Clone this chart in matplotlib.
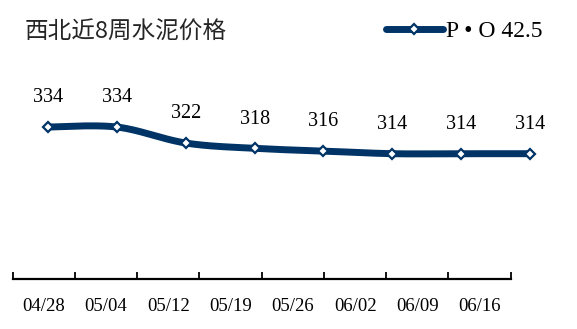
import numpy as np
import matplotlib.pyplot as plt
from matplotlib.lines import Line2D

plt.rcParams['font.family'] = ['Liberation Serif', 'DejaVu Sans']

weeks = ['04/28', '05/04', '05/12', '05/19', '05/26', '06/02', '06/09', '06/16']
price = [334, 334, 322, 318, 316, 314, 314, 314]
series_name = 'P • O 42.5'
title = '西北近8周水泥价格'

navy = '#003366'

fig = plt.figure(figsize=(5.77, 3.29), dpi=100)
ax = fig.add_axes([12.7/577, 50/329, 498/577, 173.3/329])

# category axis (ticks between categories, labels in the middle)
n = len(weeks)
ax.set_xlim(-0.5, n - 0.5)
ax.set_ylim(220, 350)
ax.set_xticks(np.arange(n + 1) - 0.5)
ax.set_xticklabels([])
ax.set_xticks(np.arange(n), minor=True)
ax.set_xticklabels(weeks, minor=True, fontsize=13.5)
ax.tick_params(axis='x', which='major', direction='in', length=5, width=1.3, color='black')
ax.tick_params(axis='x', which='minor', length=0, pad=14)
ax.set_yticks([])
for s in ['top', 'right', 'left']:
    ax.spines[s].set_visible(False)
ax.spines['bottom'].set_linewidth(1.6)

# line sits on its own (wider) x scale, like the original
ax2 = ax.twiny()
ax2.set_xlim(-0.5128, 6.719)
ax2.set_ylim(220, 350)
ax2.axis('off')

x = np.arange(n, dtype=float)
y = np.array(price, dtype=float)

# catmull-rom smoothing
px = np.concatenate([[x[0]], x, [x[-1]]])
py = np.concatenate([[y[0]], y, [y[-1]]])
sx, sy = [], []
t = np.linspace(0, 1, 30)
for i in range(1, len(px) - 2):
    for arr, out in ((px, sx), (py, sy)):
        p0, p1, p2, p3 = arr[i-1], arr[i], arr[i+1], arr[i+2]
        m1 = (p2 - p0) / 2
        m2 = (p3 - p1) / 2
        h00 = 2*t**3 - 3*t**2 + 1
        h10 = t**3 - 2*t**2 + t
        h01 = -2*t**3 + 3*t**2
        h11 = t**3 - t**2
        out.extend(h00*p1 + h10*m1 + h01*p2 + h11*m2)

ax2.plot(sx, sy, color=navy, lw=5, solid_capstyle='round', clip_on=False)
ax2.plot(x, y, ls='none', marker='D', ms=5.5, mfc='white', mec=navy, mew=1.6, clip_on=False)

for xi, yi in zip(x, y):
    ax2.annotate(str(int(yi)), (xi, yi), xytext=(0, 21), textcoords='offset points',
                 ha='center', va='center', fontsize=14.5, color='black',
                 annotation_clip=False)

fig.text(25/577, 1 - 32.5/329, title, family=['Noto Sans CJK SC', 'DejaVu Sans'],
         fontsize=17, color='#262626', va='center', ha='left')

handle = Line2D([], [], color=navy, lw=5, solid_capstyle='round', marker='D',
                ms=5.5, mfc='white', mec=navy, mew=1.6)
fig.legend([handle], [series_name], loc='center left',
           bbox_to_anchor=(386/577, 1 - 31/329), frameon=False, fontsize=17,
           borderpad=0, borderaxespad=0, handlelength=2.4, handletextpad=0.15)

fig.savefig('out.png', dpi=100)
